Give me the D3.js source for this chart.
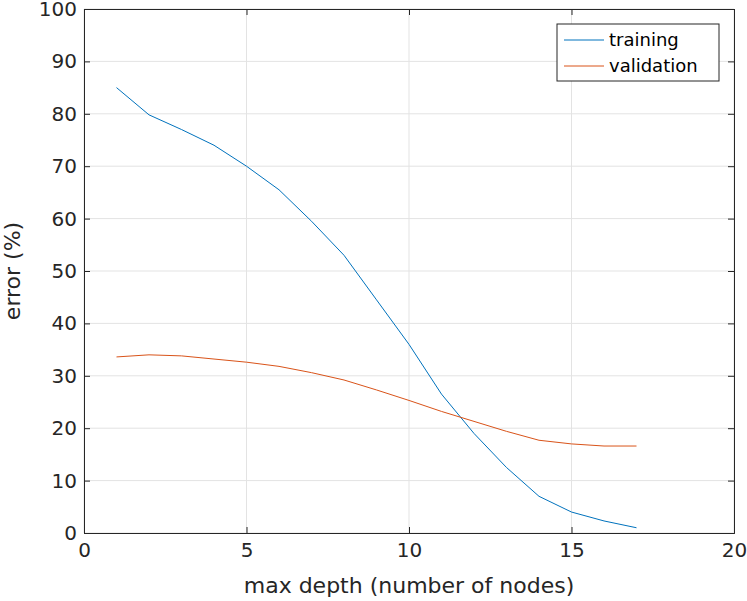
<!DOCTYPE html>
<html><head><meta charset="utf-8">
<script src="https://cdn.jsdelivr.net/npm/d3@7"></script>
<style>body{margin:0;background:#fff}text{font-family:"DejaVu Sans",sans-serif}</style>
</head><body><svg id="c" width="747" height="601"></svg>
<script>
const depth=[1,2,3,4,5,6,7,8,9,10,11,12,13,14,15,16,17];
const training=[85,79.8,77,74,70,65.5,59.5,53,44.5,36,26.5,19,12.5,7,4,2.3,1];
const validation=[33.6,34,33.8,33.2,32.6,31.8,30.6,29.2,27.3,25.3,23.2,21.3,19.4,17.7,17,16.6,16.6];
const xTicks=[0,5,10,15,20];
const yTicks=[0,10,20,30,40,50,60,70,80,90,100];
const svg=d3.select("#c");
const L=84,R=734,T=9,B=533;
const x=d3.scaleLinear().domain([0,20]).range([L,R]);
const y=d3.scaleLinear().domain([0,100]).range([B,T]);
const g=svg.append("g");
g.selectAll(".gx").data(xTicks).join("line").attr("x1",d=>x(d)).attr("x2",d=>x(d)).attr("y1",T).attr("y2",B).attr("stroke","#e3e3e3");
g.selectAll(".gy").data(yTicks).join("line").attr("y1",d=>y(d)).attr("y2",d=>y(d)).attr("x1",L).attr("x2",R).attr("stroke","#e3e3e3");
const ax=svg.append("g").attr("transform",`translate(0,${B})`).call(d3.axisBottom(x).tickValues(xTicks).tickSize(-6).tickPadding(10));
const ay=svg.append("g").attr("transform",`translate(${L},0)`).call(d3.axisLeft(y).tickValues(yTicks).tickSize(-6).tickPadding(7));
const axT=svg.append("g").attr("transform",`translate(0,${T})`).call(d3.axisTop(x).tickValues(xTicks).tickSize(-6).tickFormat(""));
const ayR=svg.append("g").attr("transform",`translate(${R},0)`).call(d3.axisRight(y).tickValues(yTicks).tickSize(-6).tickFormat(""));
[ax,ay,axT,ayR].forEach(a=>{a.selectAll("path,line").attr("stroke","#262626");a.selectAll("text").attr("fill","#262626").style("font-size","20px");});
const line=d3.line().x((d,i)=>x(depth[i])).y(d=>y(d));
svg.append("path").datum(training).attr("d",line).attr("fill","none").attr("stroke","#0072BD").attr("stroke-width",1);
svg.append("path").datum(validation).attr("d",line).attr("fill","none").attr("stroke","#D95319").attr("stroke-width",1);
svg.append("text").attr("x",(L+R)/2).attr("y",593).attr("text-anchor","middle").attr("fill","#262626").style("font-size","22px").text("max depth (number of nodes)");
svg.append("text").attr("transform",`translate(20,${(T+B)/2}) rotate(-90)`).attr("text-anchor","middle").attr("fill","#262626").style("font-size","22px").text("error (%)");
const lg=svg.append("g");
lg.append("rect").attr("x",557).attr("y",24).attr("width",162).attr("height",57).attr("fill","#fff").attr("stroke","#262626");
[["training","#0072BD",40],["validation","#D95319",66]].forEach(([t,c,yy])=>{
 lg.append("line").attr("x1",564).attr("x2",604).attr("y1",yy).attr("y2",yy).attr("stroke",c);
 lg.append("text").attr("x",609).attr("y",yy+6).attr("fill","#000").style("font-size","18px").text(t);
});
</script></body></html>
